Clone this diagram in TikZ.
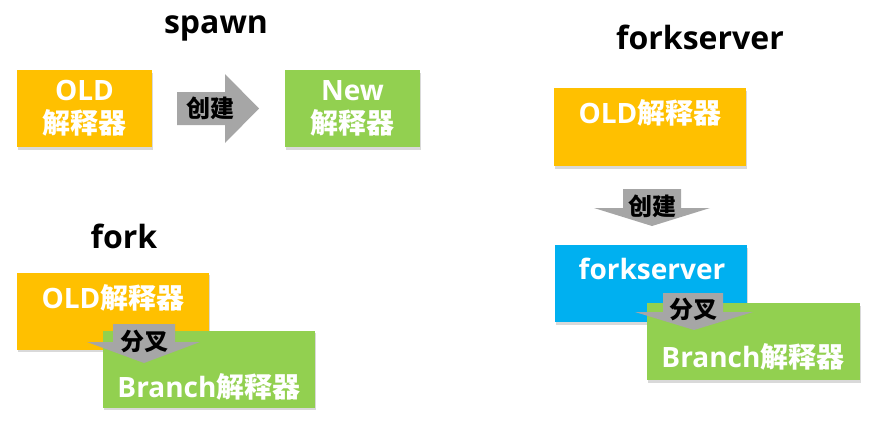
\documentclass[tikz,border=0pt]{standalone}
\usepackage{fontspec}
\setmainfont{Open Sans}
\newfontfamily\cjk{Noto Sans CJK SC}
\definecolor{BoxOrange}{RGB}{255,192,0}
\definecolor{BoxGreen}{RGB}{146,208,80}
\definecolor{BoxBlue}{RGB}{0,176,240}
\definecolor{ArrowGray}{RGB}{166,166,166}
\usetikzlibrary{shadows}

\begin{document}
\begin{tikzpicture}[x=0.75pt, y=-0.75pt,
    box/.style={fill=#1, minimum width=144pt, minimum height=57.75pt, inner sep=0pt,
      drop shadow={shadow xshift=1pt, shadow yshift=-2pt, opacity=0.3}},
    boxtext/.style={text=white, font=\fontsize{21}{25}\selectfont\bfseries, align=center},
    heading/.style={font=\fontsize{24}{28}\selectfont\bfseries, anchor=base},
    arrowtext/.style={font=\cjk\fontsize{18}{20}\selectfont\bfseries, inner sep=0pt}]
  \useasboundingbox (0,0) rectangle (874,421);

  \node[heading] (spawntitle) at (216,33) {spawn};
  \node[box=BoxOrange, boxtext, minimum width=101.25pt] (spawnold) at (84.5,108.5)
        {OLD\\{\cjk 解释器}};
  \fill[ArrowGray] (177,92) -- (225,92) -- (225,74) -- (259,108.5)
        -- (225,143) -- (225,125) -- (177,125) -- cycle;
  \node[arrowtext] (spawnlabel) at (210,108) {创建};
  \node[box=BoxGreen, boxtext, minimum width=101.25pt] (spawnnew) at (352.5,108.5)
        {New\\{\cjk 解释器}};

  \node[heading] (forktitle) at (124,248) {fork};
  \node[box=BoxOrange] (forkold) at (113,311) {};
  \node[box=BoxGreen, minimum width=159pt] (forkbranch) at (209,369) {};
  \fill[ArrowGray] (113,324) -- (175,324) -- (175,342) -- (200,342)
        -- (144,363) -- (87,342) -- (113,342) -- cycle;
  \node[arrowtext] (forklabel) at (144,341) {分叉};
  \node[boxtext] (forkoldtext) at (113,298) {OLD{\cjk 解释器}};
  \node[boxtext] (forkbranchtext) at (209,387) {Branch{\cjk 解释器}};

  \node[heading] (fstitle) at (700,49) {forkserver};
  \node[box=BoxOrange, minimum height=58.5pt] (fsold) at (650,127) {};
  \node[boxtext] (fsoldtext) at (650,113) {OLD{\cjk 解释器}};
  \fill[ArrowGray] (623,189) -- (681,189) -- (681,208) -- (710,208)
        -- (652,226) -- (594,208) -- (623,208) -- cycle;
  \node[arrowtext] (fslabel) at (652,206) {创建};
  \node[box=BoxBlue] (fsserver) at (651,283.5) {};
  \node[box=BoxGreen, minimum width=159.75pt] (fsbranch) at (753.5,341.5) {};
  \fill[ArrowGray] (663,293) -- (723,293) -- (723,312) -- (753,312)
        -- (694,330) -- (635,312) -- (663,312) -- cycle;
  \node[arrowtext] (fsforklabel) at (693,309) {分叉};
  \node[boxtext] (fsservertext) at (652,269) {forkserver};
  \node[boxtext] (fsbranchtext) at (753,357) {Branch{\cjk 解释器}};
\end{tikzpicture}
\end{document}
